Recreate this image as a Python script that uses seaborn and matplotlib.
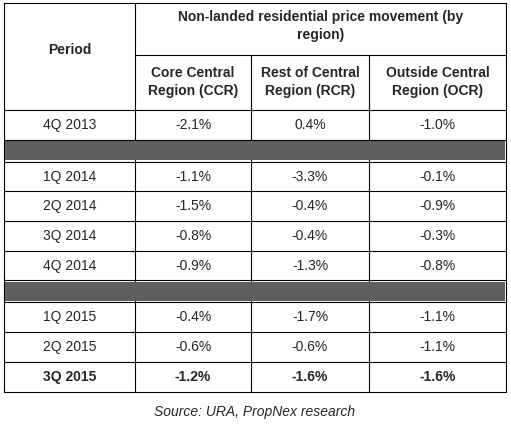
import matplotlib
matplotlib.use("Agg")
import matplotlib.pyplot as plt
import seaborn as sns

sns.set_style("white")
plt.rcParams['font.family'] = ['Liberation Sans', 'DejaVu Sans']

title = "Non-landed residential price movement (by\nregion)"
col_heads = ["Core Central\nRegion (CCR)", "Rest of Central\nRegion (RCR)", "Outside Central\nRegion (OCR)"]
periods = ["4Q 2013", None, "1Q 2014", "2Q 2014", "3Q 2014", "4Q 2014", None, "1Q 2015", "2Q 2015", "3Q 2015"]
ccr = ["-2.1%", None, "-1.1%", "-1.5%", "-0.8%", "-0.9%", None, "-0.4%", "-0.6%", "-1.2%"]
rcr = ["0.4%", None, "-3.3%", "-0.4%", "-0.4%", "-1.3%", None, "-1.7%", "-0.6%", "-1.6%"]
ocr = ["-1.0%", None, "-0.1%", "-0.9%", "-0.3%", "-0.8%", None, "-1.1%", "-1.1%", "-1.6%"]
source = "Source: URA, PropNex research"

fig = plt.figure(figsize=(5.11, 4.32), dpi=100)
ax = fig.add_axes([0, 0, 1, 1])
ax.set_xlim(0, 511); ax.set_ylim(432, 0); ax.axis("off")

xs = [4, 135, 251, 369, 506]
fs = 10
lw = 0.8
ax.text((xs[0]+xs[1])/2, 50, "Period", ha="center", va="center", fontsize=fs, fontweight="bold")
ax.text((xs[1]+xs[4])/2, 26, title, ha="center", va="center", fontsize=fs, fontweight="bold", linespacing=1.3)
for i, h in enumerate(col_heads):
    ax.text((xs[i+1]+xs[i+2])/2, 82, h, ha="center", va="center", fontsize=fs, fontweight="bold", linespacing=1.3)
ax.plot([xs[1], xs[4]], [55, 55], color="black", lw=lw)
for x in xs[2:4]:
    ax.plot([x, x], [55, 110], color="black", lw=lw)

y = 110
bounds = [110]
for k, p in enumerate(periods):
    h = 22 if p is None else 29.7
    y0, y1 = y, y + h
    if p is None:
        ax.fill_between([xs[0]+1, xs[4]-1], y0+1.5, y1-1.5, color="#5f5f5f", lw=0, zorder=5)
    else:
        bold = "bold" if k == len(periods)-1 else "normal"
        yc = (y0+y1)/2
        for i, v in enumerate([p, ccr[k], rcr[k], ocr[k]]):
            ax.text((xs[i]+xs[i+1])/2, yc, v, ha="center", va="center", fontsize=fs, fontweight=bold)
    y = y1
    bounds.append(y)
for b in bounds:
    ax.plot([xs[0], xs[4]], [b, b], color="black", lw=lw)
ax.plot([xs[0], xs[4]], [3, 3], color="black", lw=lw)
for x in [xs[0], xs[1], xs[4]]:
    ax.plot([x, x], [3, bounds[-1]], color="black", lw=lw)
for x in xs[2:4]:
    ax.plot([x, x], [110, bounds[-1]], color="black", lw=lw)
ax.text(255, 412, source, ha="center", va="center", fontsize=fs, style="italic")
fig.savefig("out.png", dpi=100)
